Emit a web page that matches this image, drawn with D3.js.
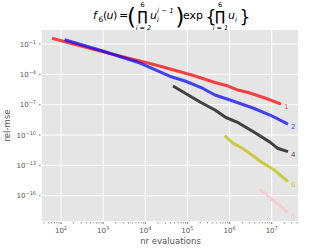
<!DOCTYPE html>
<html>
<head>
<meta charset="utf-8">
<script src="https://cdn.jsdelivr.net/npm/d3@7"></script>
<style>
  body { margin: 0; background: #fff; }
  svg { display: block; font-family: "DejaVu Sans", sans-serif; }
</style>
</head>
<body>
<div id="chart"></div>
<script>
// values (nr evaluations vs rel-mse), one array per curve
var evals1 = [61, 842, 1.3e4, 4.3e4, 1.51e5, 4.5e5, 9.2e5, 1.58e6, 3.05e6, 6.9e6, 1.66e7];
var mse1   = [0.37, 2.0e-2, 1.18e-3, 3.0e-4, 6.8e-5, 1.56e-5, 7.0e-6, 2.8e-6, 1.42e-6, 4.6e-7, 1.16e-7];
var evals2 = [122, 940, 7.5e3, 4.3e4, 8.8e4, 2.34e5, 4.5e5, 1.02e6, 3.6e6, 9.1e6, 2.44e7];
var mse2   = [0.266, 2.17e-2, 1.32e-3, 5.4e-5, 2.2e-5, 4.0e-6, 9.0e-7, 2.9e-7, 4.7e-8, 9.5e-9, 1.22e-9];
var evals4 = [4.55e4, 1.99e5, 4.5e5, 8.2e5, 1.5e6, 3.6e6, 9.1e6, 1.41e7, 2.44e7];
var mse4   = [7.0e-6, 1.83e-7, 2.96e-8, 5.4e-9, 1.93e-9, 2.2e-10, 2.0e-11, 4.6e-12, 2.3e-12];
var evals6 = [7.6e5, 1.21e6, 1.97e6, 3.05e6, 5.9e6, 1.2e7, 2.44e7];
var mse6   = [8.9e-11, 1.6e-11, 5.2e-12, 1.48e-12, 1.9e-13, 3.1e-14, 2.5e-15];
var evals8 = [5.1e6, 7.3e6, 1.07e7, 1.57e7, 2.37e7];
var mse8   = [4.1e-16, 1.46e-16, 3.7e-17, 1.06e-17, 2.15e-18];

var seriesNames = ["1", "2", "4", "6", "8"];
var seriesColors = ["#ff0000", "#0000ff", "#000000", "#bfbf00", "#ffc0cb"];

var xTickExp = [2, 3, 4, 5, 6, 7];
var yTickExp = [-1, -4, -7, -10, -13, -16];

var W = 332, H = 249;
var margin = {top: 30, right: 34, bottom: 28, left: 42};
var width = W - margin.left - margin.right,
    height = H - margin.top - margin.bottom;

var svg = d3.select("#chart").append("svg")
  .attr("width", W).attr("height", H);

var x = d3.scaleLog().domain([Math.pow(10, 1.549), Math.pow(10, 7.624)]).range([0, width]);
var y = d3.scaleLog().domain([Math.pow(10, -18.5), Math.pow(10, 0.385)]).range([height, 0]);

var g = svg.append("g")
  .attr("transform", "translate(" + margin.left + "," + margin.top + ")");

// grey panel
g.append("rect")
  .attr("width", width).attr("height", height)
  .attr("fill", "#e5e5e5");

// grid
g.selectAll(".xgrid").data(xTickExp).enter().append("line")
  .attr("x1", d => x(Math.pow(10, d))).attr("x2", d => x(Math.pow(10, d)))
  .attr("y1", 0).attr("y2", height)
  .attr("stroke", "#fff").attr("stroke-width", 1);
g.selectAll(".ygrid").data(yTickExp).enter().append("line")
  .attr("y1", d => y(Math.pow(10, d))).attr("y2", d => y(Math.pow(10, d)))
  .attr("x1", 0).attr("x2", width)
  .attr("stroke", "#fff").attr("stroke-width", 1);

// x axis: major + minor ticks
var minor = [];
for (var e = 1; e <= 7; e++) {
  for (var m = 2; m <= 9; m++) {
    var v = m * Math.pow(10, e);
    if (v >= x.domain()[0] && v <= x.domain()[1]) minor.push(v);
  }
}
g.selectAll(".xminor").data(minor).enter().append("line")
  .attr("x1", d => x(d)).attr("x2", d => x(d))
  .attr("y1", height + 1).attr("y2", height + 2.5)
  .attr("stroke", "#777").attr("stroke-width", 0.8);
g.selectAll(".xmajor").data(xTickExp).enter().append("line")
  .attr("x1", d => x(Math.pow(10, d))).attr("x2", d => x(Math.pow(10, d)))
  .attr("y1", height + 1).attr("y2", height + 3)
  .attr("stroke", "#555").attr("stroke-width", 0.8);

var xl = g.selectAll(".xlab").data(xTickExp).enter().append("text")
  .attr("x", d => x(Math.pow(10, d)))
  .attr("y", height + 11.5)
  .attr("text-anchor", "middle")
  .attr("fill", "#555")
  .style("font-size", "7px");
xl.append("tspan").text("10");
xl.append("tspan").attr("dy", -3).style("font-size", "5px").text(d => d);

// y axis
g.selectAll(".ytick").data(yTickExp).enter().append("line")
  .attr("y1", d => y(Math.pow(10, d))).attr("y2", d => y(Math.pow(10, d)))
  .attr("x1", -3).attr("x2", -1.5)
  .attr("stroke", "#555").attr("stroke-width", 0.8);

var yl = g.selectAll(".ylab").data(yTickExp).enter().append("text")
  .attr("x", -6)
  .attr("y", d => y(Math.pow(10, d)) + 2.5)
  .attr("text-anchor", "end")
  .attr("fill", "#555")
  .style("font-size", "7px");
yl.append("tspan").text("10");
yl.append("tspan").attr("dy", -3).style("font-size", "5px").text(d => "\u2212" + (-d));

// axis titles
svg.append("text")
  .attr("x", margin.left + width / 2 + 0.5)
  .attr("y", H - 5)
  .attr("text-anchor", "middle")
  .attr("fill", "#555")
  .style("font-size", "8.5px")
  .text("nr evaluations");
svg.append("text")
  .attr("transform", "translate(10," + (margin.top + height / 2) + ") rotate(-90)")
  .attr("text-anchor", "middle")
  .attr("fill", "#555")
  .style("font-size", "8.5px")
  .text("rel-mse");

// curves
var allEvals = [evals1, evals2, evals4, evals6, evals8];
var allMse = [mse1, mse2, mse4, mse6, mse8];
var series = seriesNames.map(function (name, i) {
  return {
    name: name,
    color: seriesColors[i],
    values: allEvals[i].map(function (n, j) { return {n: n, mse: allMse[i][j]}; })
  };
});

var line = d3.line()
  .x(d => x(d.n))
  .y(d => y(d.mse));

g.selectAll(".curve").data(series).enter().append("path")
  .attr("d", d => line(d.values))
  .attr("fill", "none")
  .attr("stroke", d => d.color)
  .attr("stroke-opacity", 0.72)
  .attr("stroke-width", 3)
  .attr("stroke-linejoin", "round");

g.selectAll(".curvelab").data(series).enter().append("text")
  .attr("x", d => x(d.values[d.values.length - 1].n) + 3)
  .attr("y", d => y(d.values[d.values.length - 1].mse) + 5)
  .attr("fill", d => d.color)
  .attr("fill-opacity", 0.72)
  .style("font-size", "7px")
  .text(d => d.name);

// title: f6(u) = ( prod_{i=2}^6 u_i^{i-1} ) exp { prod_{i=1}^6 u_i }
var t = svg.append("g").attr("fill", "#000");
function txt(s, tx, ty, size, italic, anchor) {
  t.append("text")
    .attr("x", tx).attr("y", ty)
    .attr("text-anchor", anchor || "start")
    .style("font-size", size + "px")
    .style("font-style", italic ? "italic" : "normal")
    .text(s);
}
var base = 19;
txt("f", 93, base, 11, true);
txt("6", 98.5, base + 2.5, 7.5);
txt("(", 103, base, 11);
txt("u", 106.5, base, 11, true);
txt(")", 113, base, 11);
txt("=", 119, base, 11);
txt("(", 127, base + 5.5, 23);
txt("\u220F", 142.5, 20.5, 13.5, false, "middle");
txt("6", 142.5, 7, 6.5, false, "middle");
txt("i = 2", 143.5, 29.5, 6.5, true, "middle");
txt("u", 150, base, 11, true);
txt("i", 157, base + 3, 7, true);
txt("i \u2212 1", 157, base - 6, 7, true);
txt(")", 175.5, base + 5.5, 23);
txt("exp", 183, base, 11);
txt("{", 205.5, base + 3.5, 17);
txt("\u220F", 220, 20.5, 13.5, false, "middle");
txt("6", 220, 7, 6.5, false, "middle");
txt("i = 1", 220.5, 29.5, 6.5, true, "middle");
txt("u", 228, base, 11, true);
txt("i", 235, base + 3, 7, true);
txt("}", 239.5, base + 3.5, 17);
</script>
</body>
</html>
